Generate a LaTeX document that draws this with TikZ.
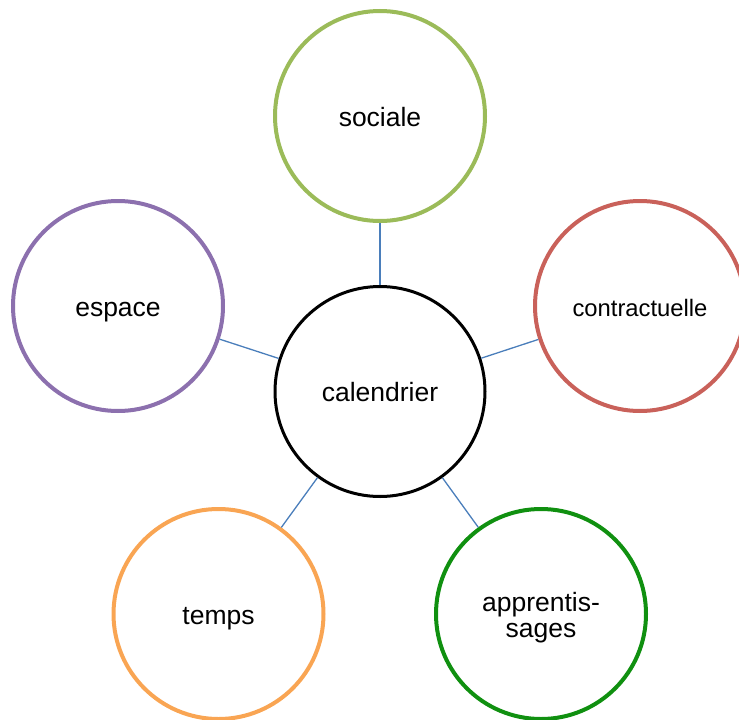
\documentclass[tikz,border=0pt]{standalone}
\usepackage{fontspec}
\setmainfont{Liberation Sans}
\definecolor{cgreen}{HTML}{9BBB59}
\definecolor{cred}{HTML}{C9615A}
\definecolor{cpurple}{HTML}{8C70AE}
\definecolor{corange}{HTML}{F9A553}
\definecolor{cdgreen}{HTML}{109010}
\definecolor{cline}{HTML}{4A7EBB}
\tikzset{
  bubble/.style={circle, minimum size=210pt, inner sep=0pt, line width=4pt, fill=white, align=center, font=\fontsize{26.5}{26}\selectfont},
  oneline/.style={text height=20.5pt, text depth=0pt},
  link/.style={draw=cline, line width=1.3pt}
}
\begin{document}
\begin{tikzpicture}[x=1pt,y=-1pt]
\useasboundingbox (0,0) rectangle (739,720);
\clip (0,0) rectangle (739,720);
\node[bubble, oneline, draw=black, line width=3pt] (c) at (380,391.5) {calendrier};
\node[bubble, oneline, draw=cgreen] (s) at (380,116) {sociale};
\node[bubble, oneline, draw=cred, font=\fontsize{23.8}{28}\selectfont] (k) at (640,306) {contractuelle};
\node[bubble, oneline, draw=cpurple] (e) at (118,306) {espace};
\node[bubble, oneline, draw=corange] (t) at (218.5,614) {temps};
\node[bubble, draw=cdgreen] (a) at (541,614) {};
\node[align=center, inner sep=0pt, font=\fontsize{26.5}{26}\selectfont] (atext) at ([yshift=-4pt]a.center) {apprentis-\\sages};
\draw[link] (c) -- (s);
\draw[link] (c) -- (k);
\draw[link] (c) -- (e);
\draw[link] (c) -- (t);
\draw[link] (c) -- (a);
\end{tikzpicture}
\end{document}
